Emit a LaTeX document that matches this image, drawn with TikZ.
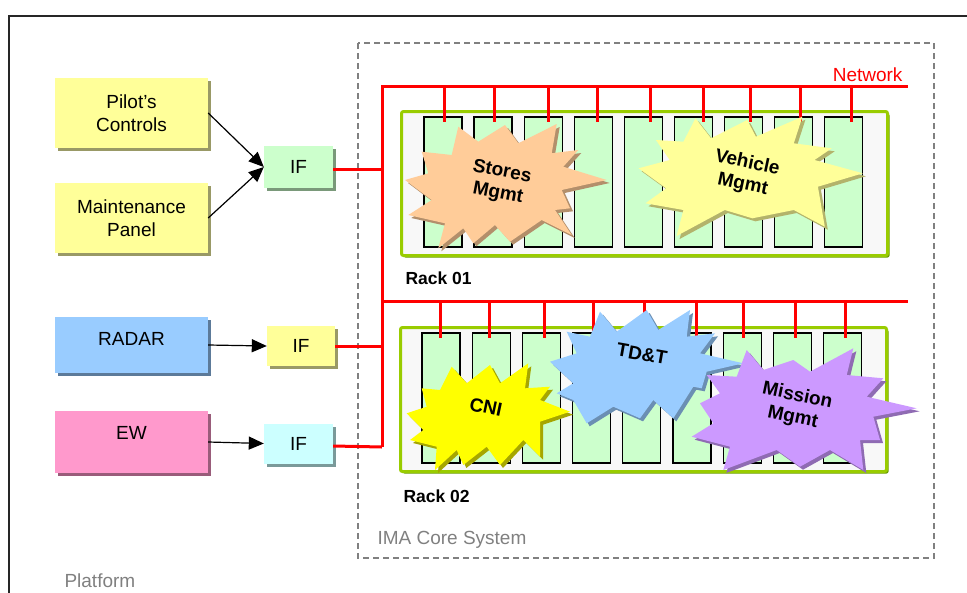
\documentclass[tikz,border=0pt]{standalone}
\usepackage{fontspec}
\setmainfont{Liberation Sans}
\usetikzlibrary{arrows.meta,shadows}
\definecolor{pyel}{HTML}{FFFF99}
\definecolor{pyelsh}{HTML}{999966}
\definecolor{pgrn}{HTML}{CCFFCC}
\definecolor{pgrnsh}{HTML}{7A997A}
\definecolor{pblu}{HTML}{99CCFF}
\definecolor{pblush}{HTML}{5C7A99}
\definecolor{ppnk}{HTML}{FF99CC}
\definecolor{ppnksh}{HTML}{995C7A}
\definecolor{pcyn}{HTML}{CCFFFF}
\definecolor{pcynsh}{HTML}{7A9999}
\definecolor{rackbd}{HTML}{99CC00}
\definecolor{racksh}{HTML}{669900}
\definecolor{rackfl}{HTML}{F8F8F8}
\definecolor{porg}{HTML}{FFCC99}
\definecolor{porgsh}{HTML}{B38F6B}
\definecolor{pyel2sh}{HTML}{B3B36B}
\definecolor{cniyel}{HTML}{FFFF00}
\definecolor{cnish}{HTML}{A6A600}
\definecolor{tdsh}{HTML}{6B8FB3}
\definecolor{ppur}{HTML}{CC99FF}
\definecolor{ppursh}{HTML}{8F6BB3}
\definecolor{graytxt}{HTML}{808080}
\newcommand{\fsz}{\fontsize{19}{23}\selectfont}
\newcommand{\fsb}{\fontsize{19}{22}\selectfont\bfseries}
\newcommand{\burstpoly}[3]{\fill[#3, shift={(3,3)}] #1 -- cycle; \fill[#2] #1 -- cycle;}
\begin{document}
\begin{tikzpicture}[x=1pt,y=-1pt,
  sbox/.style 2 args={fill=#1, draw=none, inner sep=0pt, align=center, font=\fsz,
     drop shadow={shadow xshift=3pt, shadow yshift=-3pt, fill=#2, opacity=1}},
  slot/.style={draw=black, line width=1.3pt, fill=pgrn, minimum width=38pt, minimum height=130pt, inner sep=0pt},
  rack/.style={draw=rackbd, line width=3pt, fill=rackfl, rounded corners=2pt, minimum width=486pt, minimum height=144pt, inner sep=0pt,
     drop shadow={shadow xshift=2pt, shadow yshift=-2pt, fill=racksh, opacity=1}},
  net/.style={draw=red, line width=3pt},
  arr/.style={draw=black, line width=1.2pt, -{Triangle[length=15pt,width=13pt]}},
  btxt/.style={font=\fsb, align=center},
  rlabel/.style={font=\fontsize{17.5}{20}\selectfont\bfseries, anchor=base west},
  glabel/.style={font=\fsz, text=graytxt, anchor=base west}]
\useasboundingbox (0,0) rectangle (967,592);
\clip (0,0) rectangle (967,592);
% platform frame
\draw[line width=1.4pt, draw=black!85] (9,16) rectangle (990,620);
\node[glabel] (platform) at (61,587) {Platform};
% IMA core system
\draw[draw=graytxt, line width=1.6pt, dash pattern=on 6pt off 4pt] (358,43) rectangle (934,558);
\node[glabel] (ima) at (374,544) {IMA Core System};
% left boxes
\node[sbox={pyel}{pyelsh}, minimum width=153pt, minimum height=70pt] (pilot) at (131.5,113) {Pilot’s\\Controls};
\node[sbox={pyel}{pyelsh}, minimum width=153pt, minimum height=70pt] (maint) at (131.5,218) {Maintenance\\Panel};
\node[sbox={pblu}{pblush}, minimum width=153pt, minimum height=56pt, text height=7pt, text depth=7pt] (radar) at (131.5,345) {RADAR};
\node[sbox={ppnk}{ppnksh}, minimum width=153pt, minimum height=62pt, text height=7pt, text depth=13pt] (ew) at (131.5,442) {EW};
% IF boxes
\node[sbox={pgrn}{pgrnsh}, minimum width=69pt, minimum height=42pt] (ifg) at (298.5,167) {IF};
\node[sbox={pyel}{pyelsh}, minimum width=68pt, minimum height=40pt] (ify) at (301,346) {IF};
\node[sbox={pcyn}{pcynsh}, minimum width=69pt, minimum height=40pt] (ifc) at (298.5,443.5) {IF};
% arrows
\draw[arr] (pilot.east) -- (ifg.west);
\draw[arr] (maint.east) -- (ifg.west);
\draw[arr] (radar.east) -- (ify.west);
\draw[arr] (ew.east) -- (ifc.west);
% racks
\node[rack] (rack1) at (644.5,183.5) {};
\node[rack] (rack2) at (643.5,399.5) {};
\foreach \i in {1,...,9} {
  \node[slot] (ra\i) at ({443+50.1*(\i-1)},182) {};
  \node[slot] (rb\i) at ({441+50.2*(\i-1)},398) {};
}
\node[rlabel] (r1lab) at (402,284) {Rack 01};
\node[rlabel] (r2lab) at (400,502) {Rack 02};
% network
\coordinate (busA) at (382,86);
\coordinate (busB) at (382,301);
\coordinate (busC) at (382,447);
\coordinate (netA) at (908,86);
\coordinate (netB) at (908,301);
\draw[net] (busC) -- (busA) -- (netA);
\draw[net] (busB) -- (netB);
\node[text=red, font=\fsz, anchor=base east] (netlab) at (906,81) {Network};
\draw[net] (ifg.east |- 0,169) -- (busA |- 0,169);
\draw[net] (ify.east) -- (busA |- ify.east);
\draw[net] (ifc.east |- 0,446) -- (busC);
\foreach \x in {444,494,548,597,650,703,750,800,851} \draw[net] (\x,86) -- (\x,122);
\foreach \x in {440,489,544,593,644,696,743,795,845} \draw[net] (\x,301) -- (\x,338);
% explosions
\burstpoly{(505,125) -- (518.3,143.3) -- (556.7,124) -- (551.7,153.3) -- (578.3,150) -- (563.3,166.7) -- (606.7,180) -- (561.7,190) -- (570,208.3) -- (555,210) -- (571.7,235) -- (541.7,220) -- (510,241.7) -- (495,225) -- (473.3,243.3) -- (463.3,228.3) -- (438.3,248.3) -- (445,223.3) -- (408.3,215) -- (431.7,200) -- (405,180) -- (428.3,173.3) -- (421.7,151.7) -- (451.7,155) -- (458.3,126.7) -- (478.3,141.7)}{porg}{porgsh}
\node[btxt, rotate=-11] (t1) at (500,183) {Stores\\Mgmt};
\burstpoly{(695.5,118.3) -- (711,138.3) -- (747.2,120) -- (755.9,136.7) -- (802.4,116.7) -- (793.8,143.3) -- (831.7,148.3) -- (814.5,160) -- (862.8,173.3) -- (817.9,186.7) -- (824.8,226.7) -- (793.8,210) -- (752.4,218.3) -- (724.8,210) -- (676.6,236) -- (683.4,210) -- (645.5,203.3) -- (666.2,188.3) -- (638.6,168.3) -- (669.7,160) -- (655.9,140) -- (683.4,141.7)}{pyel}{pyel2sh}
\node[btxt, rotate=-12] (t2) at (745,174) {Vehicle\\Mgmt};
\burstpoly{(600,311.7) -- (616.7,331.7) -- (646.7,310) -- (658.3,330) -- (690,310) -- (686.7,336.7) -- (715,333.3) -- (700,353.3) -- (743.3,363.3) -- (706.7,371.7) -- (701.7,388.3) -- (693.3,386.7) -- (673.3,418.3) -- (653.3,400) -- (640,418.3) -- (613.3,406.7) -- (586.7,423.3) -- (573.3,400) -- (556.7,393.3) -- (573.3,383.3) -- (550,361.7) -- (576.7,353.3) -- (566.7,331.7) -- (590,336.7)}{pblu}{tdsh}
\node[btxt, rotate=-10] (t4) at (642,354) {TD\&T};
\burstpoly{(490,365) -- (500,383.3) -- (528.3,363.3) -- (525,388.3) -- (550,386.7) -- (540,400) -- (570,411.7) -- (540,421.7) -- (540,456.7) -- (523.3,440) -- (500,465) -- (486.7,446.7) -- (463.3,465) -- (456.7,450) -- (435,470) -- (436.7,446.7) -- (410,440) -- (423.3,430) -- (406.7,413.3) -- (426.7,406.7) -- (421.7,388.3) -- (440,390) -- (451.7,366.7) -- (466.7,383.3)}{cniyel}{cnish}
\node[btxt, rotate=-12] (t3) at (486,407) {CNI};
\burstpoly{(746.7,350) -- (763.3,370) -- (793.3,360) -- (810,371.7) -- (853.3,348.3) -- (846.7,375) -- (883.3,378.3) -- (866.7,396.7) -- (916.7,408.3) -- (873.3,416.7) -- (880,440) -- (860,440) -- (863.3,470) -- (830,450) -- (800,466.7) -- (776.7,450) -- (723.3,470) -- (730,446.7) -- (691.7,436.7) -- (713.3,423.3) -- (700,403.3) -- (720,393.3) -- (706.7,375) -- (736.7,376.7)}{ppur}{ppursh}
\node[btxt, rotate=-12] (t5) at (795,407) {Mission\\Mgmt};
\end{tikzpicture}
\end{document}
